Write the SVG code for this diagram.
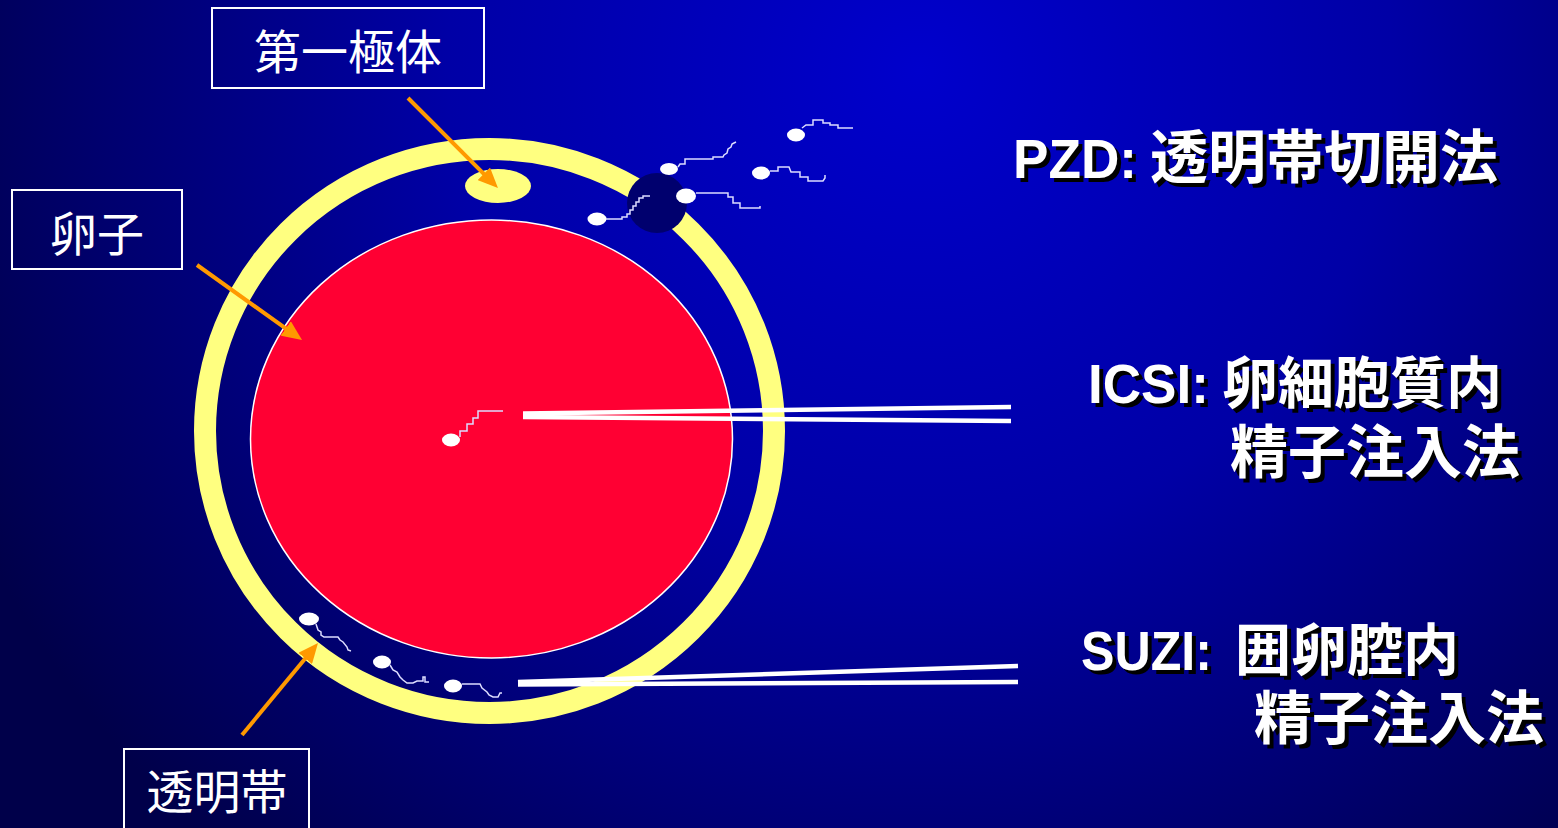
<svg xmlns="http://www.w3.org/2000/svg" xmlns:xlink="http://www.w3.org/1999/xlink" width="1558" height="828" viewBox="0 0 1558 828">
  <defs>
    <radialGradient id="bg" gradientUnits="userSpaceOnUse" cx="920" cy="70" r="1050">
      <stop offset="0" stop-color="#0000cc"/>
      <stop offset="0.45" stop-color="#0000a6"/>
      <stop offset="1" stop-color="#00004a"/>
    </radialGradient>
    <marker id="arrowhead" markerUnits="strokeWidth" markerWidth="5" markerHeight="4.4" refX="3" refY="2.2" orient="auto">
      <path d="M0,0 L5,2.2 L0,4.4 z" fill="#ff9900"/>
    </marker>
    <style>
      .box { fill: none; stroke: #ffffff; stroke-width: 2; }
      .label { fill: #ffffff; font-family: "Noto Sans CJK JP", "Noto Sans", sans-serif; font-size: 47px; text-anchor: middle; }
      .pointer { stroke: #ff9900; stroke-width: 4; fill: none; marker-end: url(#arrowhead); }
      .head { fill: #ffffff; }
      .tail { fill: none; stroke: #dcdcff; stroke-width: 1.5; stroke-linejoin: miter; }
      .pipette { stroke: #ffffff; stroke-width: 4.5; fill: none; }
      .lat { font-family: "Liberation Sans", Arial, sans-serif; font-weight: bold; font-size: 56px; }
      .cjk { font-family: "Noto Sans CJK JP", "Noto Sans", sans-serif; font-weight: bold; font-size: 58px; }
      .cjk-s { font-family: "Noto Sans CJK JP", "Noto Sans", sans-serif; font-weight: bold; font-size: 56px; }
      .shadow { fill: #000000; }
      .front { fill: #ffffff; }
    </style>
    <!-- method titles, drawn twice: black offset shadow, then white -->
    <g id="t-pzd">
      <text class="lat" x="1013" y="178" textLength="124" lengthAdjust="spacingAndGlyphs">PZD:</text>
      <text class="cjk" x="1150" y="178">透明帯切開法</text>
    </g>
    <g id="t-icsi">
      <text class="lat" x="1088" y="403" textLength="121" lengthAdjust="spacingAndGlyphs">ICSI:</text>
      <text class="cjk-s" x="1222" y="403">卵細胞質内</text>
      <text class="cjk" x="1230" y="473">精子注入法</text>
    </g>
    <g id="t-suzi">
      <text class="lat" x="1081" y="670" textLength="131" lengthAdjust="spacingAndGlyphs">SUZI:</text>
      <text class="cjk-s" x="1235" y="670">囲卵腔内</text>
      <text class="cjk" x="1254" y="739">精子注入法</text>
    </g>
  </defs>

  <rect x="0" y="0" width="1558" height="828" fill="url(#bg)"/>

  <!-- oocyte -->
  <g id="zona">
    <ellipse cx="489.5" cy="431" rx="284.5" ry="282" fill="none" stroke="#ffff80" stroke-width="22"/>
  </g>
  <g id="polar-body">
    <ellipse cx="498" cy="186" rx="33" ry="17" fill="#ffff80"/>
  </g>
  <g id="ooplasm">
    <ellipse cx="491.5" cy="439" rx="241" ry="219" fill="#ff0033" stroke="#ffffff" stroke-width="1.5"/>
  </g>
  <g id="zona-opening">
    <circle cx="657" cy="203" r="30" fill="#00006e"/>
  </g>

  <!-- sperm -->
  <g id="sperm">
    <ellipse class="head" cx="597" cy="219" rx="9.5" ry="6.5"/>
    <polyline class="tail" points="606,219 622,219 622,217 627,217 627,214 630,214 630,210 633,210 633,206 636,206 636,202 639,202 639,198 643,198 643,196 650,196"/>
    <ellipse class="head" cx="669" cy="169" rx="9" ry="6"/>
    <polyline class="tail" points="678,167 680,164 685,164 685,159 713,159 713,157 723,157 724,155 727,153 728,149 731,147 732,144 734,143 736,142"/>
    <ellipse class="head" cx="686" cy="196" rx="10" ry="7.5"/>
    <polyline class="tail" points="696,193 728,193 728,197 733,197 733,203 740,203 740,208 760,208 760,206"/>
    <ellipse class="head" cx="761" cy="173" rx="9" ry="6.5"/>
    <polyline class="tail" points="770,171 778,171 778,167 789,167 791,172 800,172 800,177 808,177 808,181 823,181 825,178 825,175"/>
    <ellipse class="head" cx="796" cy="135" rx="9" ry="6.5"/>
    <polyline class="tail" points="802,128 806,125 813,125 813,120 823,120 823,123 830,123 830,125 838,125 838,128 853,128"/>
    <ellipse class="head" cx="451" cy="440" rx="9" ry="6.5"/>
    <polyline class="tail" points="460,437 460,431 467,431 467,424 473,424 473,418 478,418 478,411 503,411"/>
    <ellipse class="head" cx="309" cy="619" rx="10" ry="6.5"/>
    <polyline class="tail" points="316,624 318,630 321,632 321,635 324,637 338,637 340,640 343,642 347,647 348,650 351,651"/>
    <ellipse class="head" cx="382" cy="662" rx="9" ry="6.5"/>
    <polyline class="tail" points="390,665 393,670 397,672 400,677 403,680 407,683 413,683 417,681 423,681 423,677 425,677 425,682 429,682"/>
    <ellipse class="head" cx="453" cy="686" rx="9" ry="6.5"/>
    <polyline class="tail" points="462,684 480,684 482,688 487,692 489,695 493,697 498,697 500,693 502,693"/>
  </g>

  <!-- micropipettes -->
  <g id="icsi-pipette">
    <line class="pipette" x1="1011" y1="407" x2="523" y2="413.5"/>
    <line class="pipette" x1="1011" y1="421" x2="523" y2="417"/>
  </g>
  <g id="suzi-pipette">
    <line class="pipette" x1="1018" y1="666" x2="518" y2="682"/>
    <line class="pipette" x1="1018" y1="682" x2="518" y2="684.5"/>
  </g>

  <!-- callout labels -->
  <g id="label-polar-body">
    <rect class="box" x="212" y="8" width="272" height="80"/>
    <text class="label" x="348" y="69">第一極体</text>
  </g>
  <g id="label-oocyte">
    <rect class="box" x="12" y="190" width="170" height="79"/>
    <text class="label" x="97" y="251">卵子</text>
  </g>
  <g id="label-zona">
    <rect class="box" x="124" y="749" width="185" height="90"/>
    <text class="label" x="217" y="809">透明帯</text>
  </g>

  <g id="connectors">
    <line class="pointer" x1="408" y1="98" x2="492.3" y2="182.3"/>
    <line class="pointer" x1="197" y1="265" x2="295.5" y2="335.4"/>
    <line class="pointer" x1="242" y1="735" x2="312.9" y2="649.2"/>
  </g>

  <!-- method titles -->
  <g id="title-pzd">
    <use xlink:href="#t-pzd" class="shadow" x="4" y="4"/>
    <use xlink:href="#t-pzd" class="front"/>
  </g>
  <g id="title-icsi">
    <use xlink:href="#t-icsi" class="shadow" x="4" y="4"/>
    <use xlink:href="#t-icsi" class="front"/>
  </g>
  <g id="title-suzi">
    <use xlink:href="#t-suzi" class="shadow" x="4" y="4"/>
    <use xlink:href="#t-suzi" class="front"/>
  </g>
</svg>
